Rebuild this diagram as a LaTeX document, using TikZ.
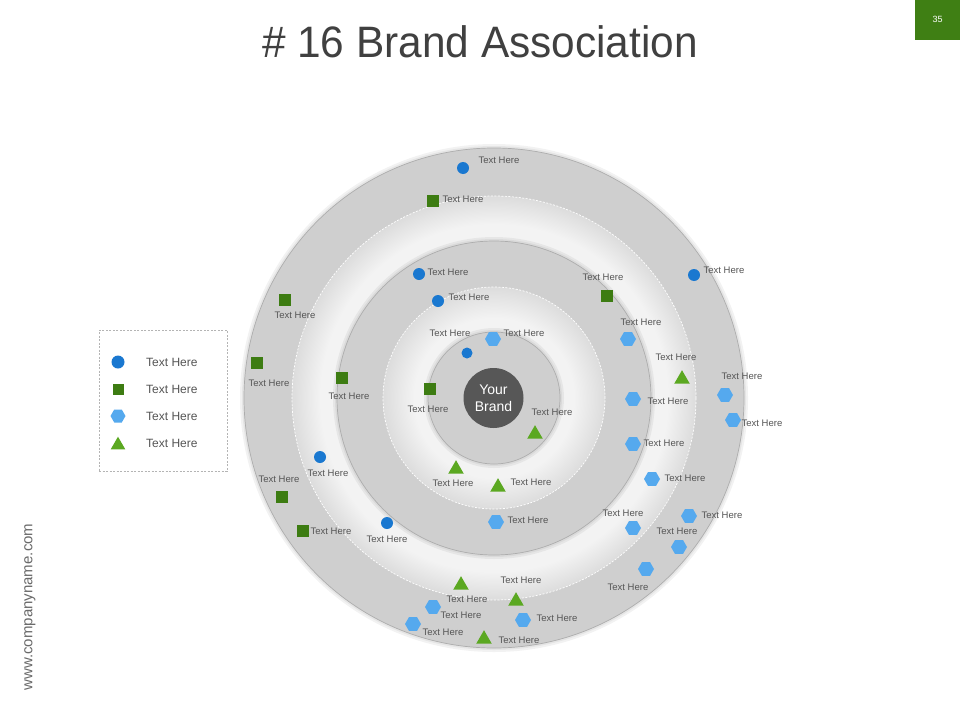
\documentclass[tikz,border=0pt]{standalone}
\usepackage{fontspec}
\setmainfont{Liberation Sans}
\usetikzlibrary{shapes.geometric}
\definecolor{ringgray}{HTML}{CFCFCF}
\definecolor{ringedge}{HTML}{ADADAD}
\definecolor{ringhi}{HTML}{F3F3F3}
\definecolor{ringlo}{HTML}{DCDCDC}
\definecolor{brandgray}{HTML}{575757}
\definecolor{labelgray}{HTML}{555555}
\definecolor{titlegray}{HTML}{404040}
\definecolor{webgray}{HTML}{6A6A6A}
\definecolor{legendgray}{HTML}{B4B4B4}
\definecolor{dotblue}{HTML}{1A78D0}
\definecolor{sqgreen}{HTML}{3D7C12}
\definecolor{hexblue}{HTML}{55A9EE}
\definecolor{trigreen}{HTML}{5BA821}
\definecolor{pagegreen}{HTML}{3F7F14}
\pgfdeclareradialshading{whiteA}{\pgfpoint{0bp}{0bp}}{color(0bp)=(white); color(19.4bp)=(ringhi); color(21.5bp)=(ringhi); color(25bp)=(ringlo); color(50bp)=(ringlo)}
\pgfdeclareradialshading{whiteB}{\pgfpoint{0bp}{0bp}}{color(0bp)=(white); color(14.9bp)=(ringhi); color(18bp)=(ringhi); color(25bp)=(ringlo); color(50bp)=(ringlo)}
\begin{document}
\begin{tikzpicture}[x=1pt,y=-1pt,
  lbl/.style={font=\fontsize{9.5}{11}\selectfont, text=labelgray, inner sep=0pt},
  lgtext/.style={font=\fontsize{12}{14}\selectfont, text=labelgray, inner sep=0pt, anchor=west},
  bdot/.style={circle, fill=dotblue, minimum size=12pt, inner sep=0pt},
  gsq/.style={rectangle, fill=sqgreen, minimum size=12pt, inner sep=0pt},
  hexa/.style={regular polygon, regular polygon sides=6, fill=hexblue, minimum size=16pt, inner sep=0pt},
  gtri/.style={regular polygon, regular polygon sides=3, fill=trigreen, minimum size=18pt, inner sep=0pt, yshift=-2.2pt},
  dashring/.style={white, line width=0.7pt, dash pattern=on 2pt off 1.5pt},
  shadowring/.style={black, opacity=0.05},
]
\useasboundingbox (0,0) rectangle (960,720);
\fill[white] (0,0) rectangle (960,720);

% title and page number
\node[text=titlegray, inner sep=0pt] (title) at (480,42) {\scalebox{0.963}[1]{\fontsize{44}{48}\selectfont \# 16 Brand Association}};
\fill[pagegreen] (915,0) rectangle (960,40);
\node[text=white, font=\fontsize{9}{11}\selectfont, inner sep=0pt] (page) at (937.5,19) {35};
\node[rotate=90, text=webgray, font=\fontsize{15}{18}\selectfont, inner sep=0pt] (web) at (30,607) {www.companyname.com};

% rings
\coordinate (c) at (494,398);
\fill[shadowring] (c) circle (254pt);
\fill[shadowring] (c) circle (252pt);
\fill[ringgray] (c) circle (250pt);
\draw[ringedge, line width=0.7pt] (c) circle (250pt);
\shade[shading=whiteA] (c) circle (202pt);
\draw[dashring] (c) circle (202pt);
\fill[shadowring] (c) circle (161pt);
\fill[shadowring] (c) circle (159pt);
\fill[ringgray] (c) circle (157pt);
\draw[ringedge, line width=0.7pt] (c) circle (157pt);
\shade[shading=whiteB] (c) circle (111pt);
\draw[dashring] (c) circle (111pt);
\fill[shadowring] (c) circle (70pt);
\fill[shadowring] (c) circle (68pt);
\fill[ringgray] (c) circle (66pt);
\draw[ringedge, line width=0.7pt] (c) circle (66pt);
\node[circle, fill=brandgray, minimum size=60pt, inner sep=0pt, text=white, font=\fontsize{14}{17}\selectfont, align=center] (brand) at (493.5,398) {Your\\Brand};

% legend
\node[draw=legendgray, dash pattern=on 2pt off 1.5pt, line width=0.6pt, minimum width=128pt, minimum height=141pt, inner sep=0pt] (legend) at (163,400.5) {};
\node[bdot, minimum size=13pt] (lg1) at (118,362) {};
\node[lgtext] (lt1) at (146,362) {Text Here};
\node[gsq, minimum size=11pt] (lg2) at (118,389) {};
\node[lgtext] (lt2) at (146,389) {Text Here};
\node[hexa, minimum size=15pt] (lg3) at (118,416) {};
\node[lgtext] (lt3) at (146,416) {Text Here};
\node[gtri, minimum size=17pt] (lg4) at (118,443) {};
\node[lgtext] (lt4) at (146,443) {Text Here};

% outer ring markers
\node[bdot] (o1) at (463,168) {};   \node[lbl] (o1t) at (499,160) {Text Here};
\node[gsq] (o2) at (433,201) {};    \node[lbl] (o2t) at (463,199) {Text Here};
\node[bdot] (o3) at (694,275) {};   \node[lbl] (o3t) at (724,270) {Text Here};
\node[gsq] (o4) at (285,300) {};    \node[lbl] (o4t) at (295,315) {Text Here};
\node[gsq] (o5) at (257,363) {};    \node[lbl] (o5t) at (269,383) {Text Here};
\node[hexa] (o6) at (725,395) {};   \node[lbl] (o6t) at (742,376) {Text Here};
\node[hexa] (o7) at (733,420) {};   \node[lbl] (o7t) at (762,423) {Text Here};
\node[gsq] (o8) at (282,497) {};    \node[lbl] (o8t) at (279,479) {Text Here};
\node[gsq] (o9) at (303,531) {};    \node[lbl] (o9t) at (331,531) {Text Here};
\node[hexa] (o10) at (689,516) {};  \node[lbl] (o10t) at (722,515) {Text Here};
\node[hexa] (o11) at (679,547) {};  \node[lbl] (o11t) at (677,531) {Text Here};
\node[hexa] (o12) at (646,569) {};  \node[lbl] (o12t) at (628,587) {Text Here};
\node[hexa] (o13) at (433,607) {};  \node[lbl] (o13t) at (461,615) {Text Here};
\node[hexa] (o14) at (413,624) {};  \node[lbl] (o14t) at (443,632) {Text Here};
\node[gtri] (o15) at (484,637) {};  \node[lbl] (o15t) at (519,640) {Text Here};
\node[hexa] (o16) at (523,620) {};  \node[lbl] (o16t) at (557,618) {Text Here};

% second white ring markers
\node[gtri] (w1) at (682,377) {};   \node[lbl] (w1t) at (676,357) {Text Here};
\node[bdot] (w2) at (320,457) {};   \node[lbl] (w2t) at (328,473) {Text Here};
\node[bdot] (w3) at (387,523) {};   \node[lbl] (w3t) at (387,539) {Text Here};
\node[hexa] (w4) at (652,479) {};   \node[lbl] (w4t) at (685,478) {Text Here};
\node[hexa] (w5) at (633,528) {};   \node[lbl] (w5t) at (623,513) {Text Here};
\node[gtri] (w6) at (461,583) {};   \node[lbl] (w6t) at (467,599) {Text Here};
\node[gtri] (w7) at (516,599) {};   \node[lbl] (w7t) at (521,580) {Text Here};

% second gray ring markers
\node[bdot] (g1) at (419,274) {};   \node[lbl] (g1t) at (448,272) {Text Here};
\node[bdot] (g2) at (438,301) {};   \node[lbl] (g2t) at (469,297) {Text Here};
\node[gsq] (g3) at (607,296) {};    \node[lbl] (g3t) at (603,277) {Text Here};
\node[hexa] (g4) at (628,339) {};   \node[lbl] (g4t) at (641,322) {Text Here};
\node[gsq] (g5) at (342,378) {};    \node[lbl] (g5t) at (349,396) {Text Here};
\node[hexa] (g6) at (633,399) {};   \node[lbl] (g6t) at (668,401) {Text Here};
\node[hexa] (g7) at (633,444) {};   \node[lbl] (g7t) at (664,443) {Text Here};
\node[hexa] (g8) at (496,522) {};   \node[lbl] (g8t) at (528,520) {Text Here};

% inner markers
\node[hexa] (i1) at (493,339) {};   \node[lbl] (i1t) at (524,333) {Text Here};
\node[bdot, minimum size=11pt] (i2) at (467,353) {};   \node[lbl] (i2t) at (450,333) {Text Here};
\node[gsq] (i3) at (430,389) {};    \node[lbl] (i3t) at (428,409) {Text Here};
\node[gtri] (i4) at (535,432) {};   \node[lbl] (i4t) at (552,412) {Text Here};
\node[gtri] (i5) at (456,467) {};   \node[lbl] (i5t) at (453,483) {Text Here};
\node[gtri] (i6) at (498,485) {};   \node[lbl] (i6t) at (531,482) {Text Here};
\end{tikzpicture}
\end{document}
